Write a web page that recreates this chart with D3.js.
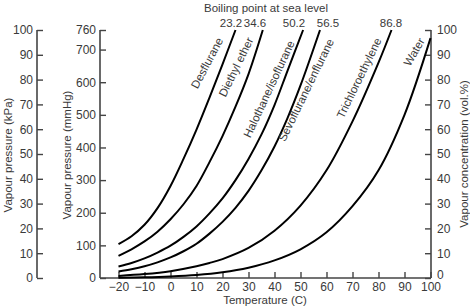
<!DOCTYPE html>
<html>
<head>
<meta charset="utf-8">
<script src="https://cdn.jsdelivr.net/npm/d3@7"></script>
<style>
  body { margin: 0; background: #fff; }
  svg text { font-family: "Liberation Sans", Arial, sans-serif; fill: #3a3a3a; }
</style>
</head>
<body>
<svg id="chart" width="470" height="308"></svg>
<script>
// agents, boiling points (deg C) and vapour pressure readings (mmHg)
var agents = ['Desflurane', 'Diethyl ether', 'Halothane/isoflurane', 'Sevoflurane/enflurane', 'Trichloroethylene', 'Water'];
var boilingPoints = ['23.2', '34.6', '50.2', '56.5', '86.8'];

var desfluraneT = [-20, -15, -10, -5, 0, 5, 10, 15, 20, 25];
var desfluraneP = [104, 128, 163, 214, 282, 365, 455, 553, 655, 760];
var etherT = [-20, -15, -10, -5, 0, 5, 10, 15, 20, 25, 30, 35.5];
var etherP = [68, 88, 112, 142, 180, 226, 282, 355, 435, 525, 625, 760];
var halothaneT = [-20, -15, -10, -5, 0, 5, 10, 15, 20, 25, 30, 35, 40, 45, 51];
var halothaneP = [35, 46, 60, 78, 99, 126, 158, 198, 244, 300, 365, 440, 530, 635, 760];
var sevofluraneT = [-20, -15, -10, -5, 0, 5, 10, 15, 20, 25, 30, 35, 40, 45, 50, 57.5];
var sevofluraneP = [20, 27, 36, 48, 63, 82, 105, 136, 172, 215, 267, 330, 403, 490, 590, 760];
var trichloroT = [-20, -10, 0, 10, 15, 20, 30, 40, 50, 60, 70, 80, 85];
var trichloroP = [6.5, 12, 21, 36, 46, 58, 92, 145, 222, 330, 480, 660, 760];
var waterT = [-20, -10, 0, 10, 20, 30, 40, 50, 60, 70, 80, 90, 100];
var waterP = [0.8, 2, 4.6, 9.2, 17.5, 31.5, 54, 88, 140, 220, 330, 500, 735];

var tempTicks = [-20, -10, 0, 10, 20, 30, 40, 50, 60, 70, 80, 90, 100];
var kpaTicks = [0, 10, 20, 30, 40, 50, 60, 70, 80, 90, 100];
var mmhgTicks = [0, 100, 200, 300, 400, 500, 600, 700, 760];
var volTicks = [0, 10, 20, 30, 40, 50, 60, 70, 80, 90, 100];

var seriesT = [desfluraneT, etherT, halothaneT, sevofluraneT, trichloroT, waterT];
var seriesP = [desfluraneP, etherP, halothaneP, sevofluraneP, trichloroP, waterP];

// label placement: centre x, y and angle in pixels / degrees
var labelLayout = [
    [207, 63, -62], [236, 67, -64], [269, 89, -65],
    [306, 90, -64], [359, 78, -64], [414, 52, -60]
];
var boilingLabelX = [231, 255, 294, 328, 391];

var svg = d3.select('#chart');
var top_y = 30, bottom_y = 278;

var x = d3.scaleLinear().domain([-20, 100]).range([118.5, 430.5]);
var yMm = d3.scaleLinear().domain([0, 760]).range([bottom_y, top_y]);
var yKpa = d3.scaleLinear().domain([0, 100]).range([bottom_y, top_y]);

var axisColor = '#444';

function styleAxis(g) {
    g.select('.domain').remove();
    g.selectAll('.tick line').attr('stroke', axisColor).attr('stroke-width', 1.4);
    g.selectAll('.tick text').style('font-size', '12px').attr('fill', '#3a3a3a');
}

// kPa axis
var kpaG = svg.append('g').attr('transform', 'translate(37,0)')
    .call(d3.axisRight(yKpa).tickValues(kpaTicks).tickSize(6).tickFormat(d3.format('d')));
styleAxis(kpaG);
kpaG.selectAll('.tick text').attr('x', -4).attr('text-anchor', 'end');
kpaG.append('line').attr('x1', 0).attr('x2', 0).attr('y1', top_y).attr('y2', bottom_y)
    .attr('stroke', axisColor).attr('stroke-width', 1.6);

// mmHg axis
var mmG = svg.append('g').attr('transform', 'translate(100,0)')
    .call(d3.axisRight(yMm).tickValues(mmhgTicks).tickSize(6).tickFormat(d3.format('d')));
styleAxis(mmG);
mmG.selectAll('.tick text').attr('x', -4).attr('text-anchor', 'end');
mmG.append('line').attr('x1', 0).attr('x2', 0).attr('y1', top_y).attr('y2', bottom_y)
    .attr('stroke', axisColor).attr('stroke-width', 1.6);

// right vol.% axis
var volG = svg.append('g').attr('transform', 'translate(431,0)')
    .call(d3.axisLeft(yKpa).tickValues(volTicks).tickSize(6).tickFormat(d3.format('d')));
styleAxis(volG);
volG.selectAll('.tick text').attr('x', 6).attr('text-anchor', 'start');
volG.selectAll('.tick text').filter(function(d) { return d === 0; }).attr('y', -3);
volG.append('line').attr('x1', 0).attr('x2', 0).attr('y1', top_y).attr('y2', bottom_y)
    .attr('stroke', axisColor).attr('stroke-width', 1.6);

// temperature axis, ticks point up
var xG = svg.append('g').attr('transform', 'translate(0,' + bottom_y + ')')
    .call(d3.axisTop(x).tickValues(tempTicks).tickSize(6).tickFormat(d3.format('d')));
styleAxis(xG);
xG.selectAll('.tick text').attr('y', 13).attr('dy', 0);
xG.append('line').attr('x1', 100).attr('x2', 431).attr('y1', 0).attr('y2', 0)
    .attr('stroke', axisColor).attr('stroke-width', 1.6);

// curves
var line = d3.line()
    .x(function(d) { return x(d[0]); })
    .y(function(d) { return yMm(d[1]); })
    .curve(d3.curveCatmullRom.alpha(0.5));

for (var i = 0; i < agents.length; i++) {
    var pts = seriesT[i].map(function(t, j) { return [t, seriesP[i][j]]; });
    svg.append('path')
        .attr('d', line(pts))
        .attr('fill', 'none')
        .attr('stroke', '#000')
        .attr('stroke-width', 2);

    var lp = labelLayout[i];
    svg.append('text')
        .attr('transform', 'translate(' + lp[0] + ',' + lp[1] + ') rotate(' + lp[2] + ')')
        .attr('text-anchor', 'middle')
        .attr('dy', '0.35em')
        .style('font-size', '11.5px')
        .text(agents[i]);
}

// boiling point labels over the curve ends
for (var k = 0; k < boilingPoints.length; k++) {
    svg.append('text')
        .attr('x', boilingLabelX[k])
        .attr('y', 27)
        .attr('text-anchor', 'middle')
        .style('font-size', '11.5px')
        .text(boilingPoints[k]);
}

svg.append('text').attr('x', 266).attr('y', 12).attr('text-anchor', 'middle')
    .style('font-size', '11.5px').text('Boiling point at sea level');

svg.append('text').attr('x', 265).attr('y', 304).attr('text-anchor', 'middle')
    .style('font-size', '11.5px').text('Temperature (C)');

svg.append('text').attr('transform', 'translate(12,155) rotate(-90)').attr('text-anchor', 'middle')
    .style('font-size', '11.5px').text('Vapour pressure (kPa)');

svg.append('text').attr('transform', 'translate(71,155) rotate(-90)').attr('text-anchor', 'middle')
    .style('font-size', '11.5px').text('Vapour pressure (mmHg)');

svg.append('text').attr('transform', 'translate(468,154) rotate(-90)').attr('text-anchor', 'middle')
    .style('font-size', '11.5px').text('Vapour concentration (vol.%)');
</script>
</body>
</html>
